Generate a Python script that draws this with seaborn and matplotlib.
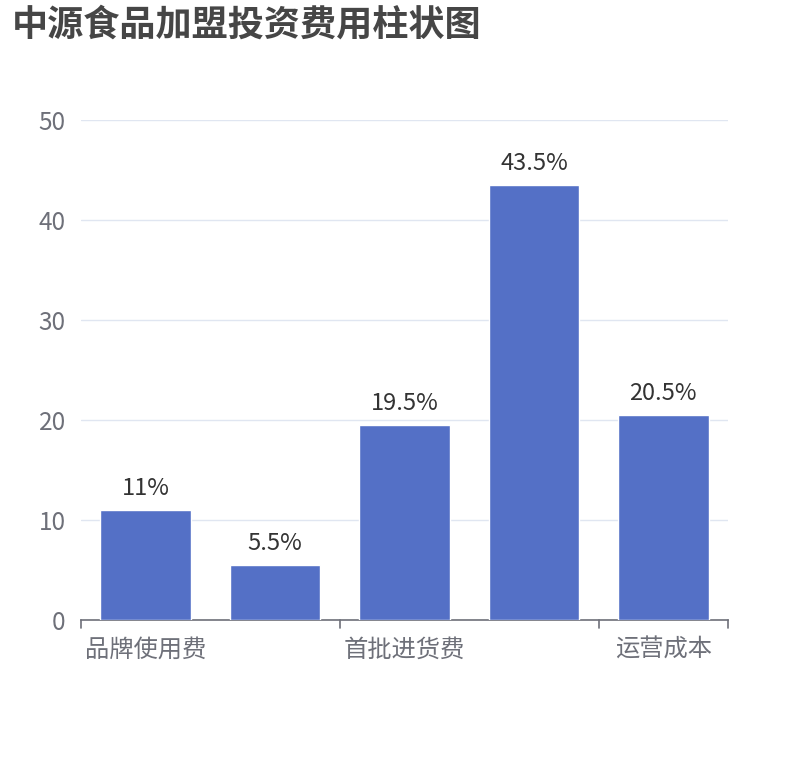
import pandas as pd
import matplotlib
matplotlib.use("Agg")
import matplotlib.pyplot as plt
import seaborn as sns

# data (labels 2 and 4 are hidden on the axis)
categories = ["品牌使用费", "装修设计费", "首批进货费", "设备采购费", "运营成本"]
values = [11, 5.5, 19.5, 43.5, 20.5]
shown_labels = ["品牌使用费", "", "首批进货费", "", "运营成本"]
bar_texts = ["11%", "5.5%", "19.5%", "43.5%", "20.5%"]
y_ticks = [0, 10, 20, 30, 40, 50]

df = pd.DataFrame({"item": categories, "value": values})

sns.set_theme(style="white")
plt.rcParams["font.family"] = ["Noto Sans CJK SC", "DejaVu Sans"]

fig = plt.figure(figsize=(8.1, 7.6), dpi=100)
ax = fig.add_axes([81 / 810, 140 / 760, 647 / 810, 500 / 760])

sns.barplot(data=df, x="item", y="value", color="#5470c6", width=0.7,
            saturation=1, ax=ax, zorder=3)

ax.set_xlim(-0.5, len(categories) - 0.5)
ax.set_ylim(0, 50)
ax.set_yticks(y_ticks)
ax.set_yticklabels([str(t) for t in y_ticks], fontsize=17.5, color="#6E7079")
ax.tick_params(axis="y", length=0, pad=11)
ax.grid(axis="y", color="#E0E6F1", linewidth=1, zorder=0)

# category labels every other bar, ticks on boundaries
ax.set_xticks(range(len(categories)))
ax.set_xticklabels(shown_labels, fontsize=17.5, color="#6E7079")
ax.tick_params(axis="x", length=0, pad=12)
for b in [-0.5, 1.5, 3.5, 4.5]:
    ax.plot([b, b], [0, -0.016], transform=ax.get_xaxis_transform(),
            color="#6E7079", lw=1.2, clip_on=False)

for s in ["top", "right", "left"]:
    ax.spines[s].set_visible(False)
ax.spines["bottom"].set_color("#6E7079")
ax.spines["bottom"].set_linewidth(1.2)
ax.set_xlabel("")
ax.set_ylabel("")

for i, (v, t) in enumerate(zip(values, bar_texts)):
    ax.annotate(t, (i, v), xytext=(0, 7), textcoords="offset points",
                ha="center", va="bottom", fontsize=17, color="#333333")

fig.text(12 / 810, 1 - 25 / 760, "中源食品加盟投资费用柱状图", fontsize=26,
         fontweight="bold", color="#464646", ha="left", va="center")

fig.savefig("out.png", dpi=100)
